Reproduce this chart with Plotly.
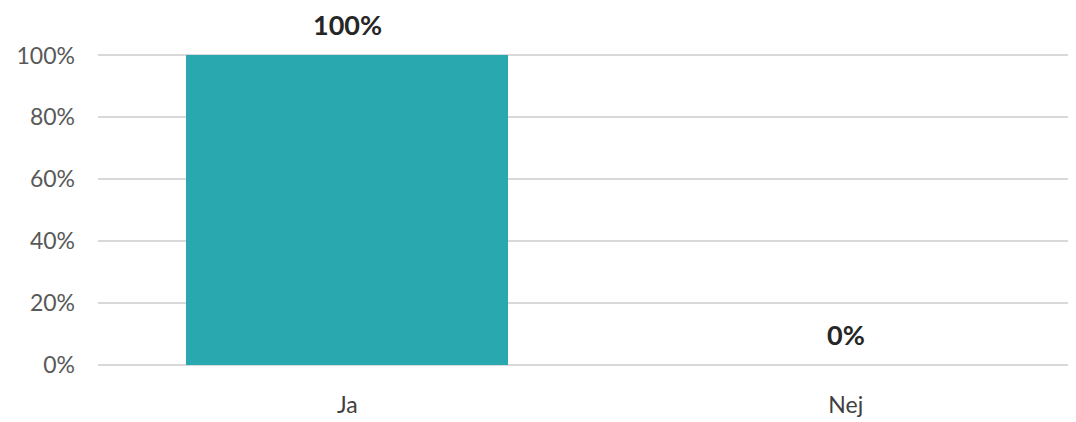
import plotly.graph_objects as go

# survey answers and share of respondents
categories = ["Ja", "Nej"]
shares = [1.0, 0.0]
label_texts = ["100%", "0%"]
y_ticks = [0, 0.2, 0.4, 0.6, 0.8, 1.0]
y_tick_labels = ["0%", "20%", "40%", "60%", "80%", "100%"]

bar_color = "#2AA8B0"
grid_color = "#D9D9D9"
font_family = "Lato, Carlito, Calibri, sans-serif"

fig = go.Figure()
fig.add_trace(go.Bar(
    x=categories,
    y=shares,
    width=0.646,
    marker=dict(color=bar_color, line=dict(width=0)),
    hoverinfo="skip",
))

# data labels above each bar
annotations = []
for cat, val, txt in zip(categories, shares, label_texts):
    annotations.append(dict(
        x=cat, y=val, xref="x", yref="y",
        text="<b>" + txt + "</b>",
        showarrow=False,
        yanchor="bottom",
        yshift=12,
        font=dict(family=font_family, size=27, color="#262626"),
    ))

# page body has an 8px margin; y range padded a little so plotly keeps
# the 0% and 100% gridlines (it drops gridlines sitting on the plot edge)
fig.update_layout(
    width=1076,
    height=414,
    margin=dict(l=90, r=0, t=45, b=55),
    plot_bgcolor="white",
    paper_bgcolor="white",
    showlegend=False,
    annotations=annotations,
    bargap=0,
)

fig.update_xaxes(
    type="category",
    range=[-0.5, 1.478],
    showgrid=False,
    showline=False,
    zeroline=False,
    ticks="",
    ticklabelstandoff=22,
    tickfont=dict(family=font_family, size=23, color="#404040"),
)

fig.update_yaxes(
    range=[-0.008, 1.008],
    tickvals=y_ticks,
    ticktext=y_tick_labels,
    showgrid=True,
    gridcolor=grid_color,
    gridwidth=1.7,
    zeroline=False,
    showline=False,
    ticks="",
    ticklabelstandoff=22,
    tickfont=dict(family=font_family, size=23, color="#595959"),
)

fig.write_html("out.html")
